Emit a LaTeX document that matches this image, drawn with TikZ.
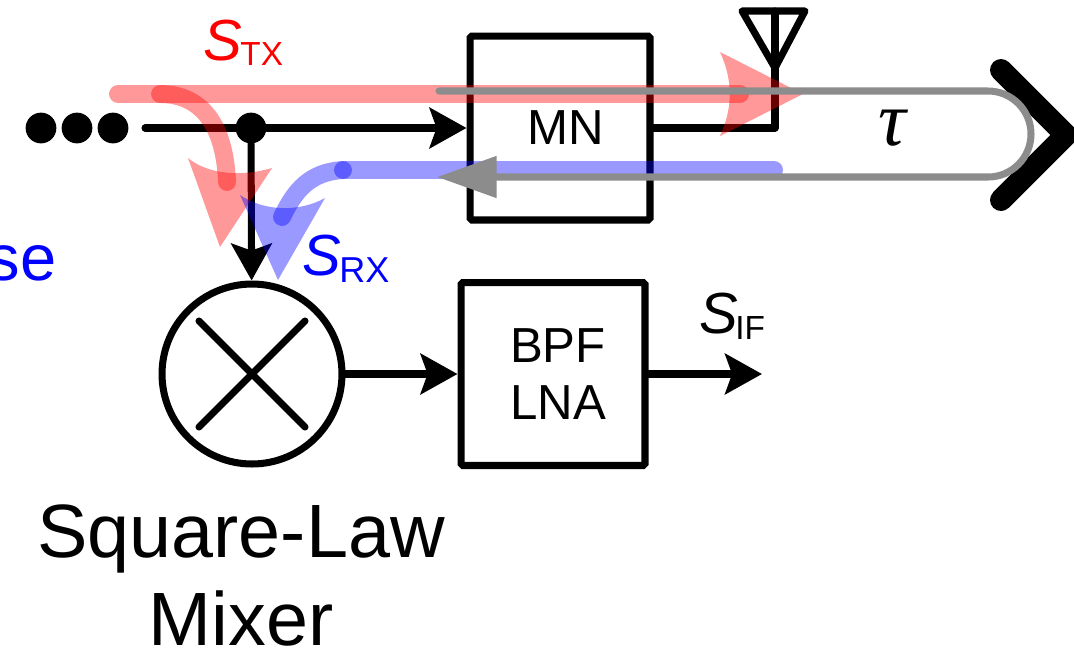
\documentclass[tikz,border=0pt]{standalone}
\usepackage{fontspec}
\setmainfont{Liberation Sans}
\newfontfamily\greekfont{Liberation Serif}
\usetikzlibrary{arrows.meta}
\tikzset{
    wire/.style = {line width=4pt,line cap=round,line join=round},
    wirearrow/.style = {wire,-{Stealth[length=21pt,width=23pt,inset=4pt]}},
    blockbox/.style = {draw,line width=4pt,rounded corners=1pt,align=center,font=\fontsize{28}{32.3}\selectfont},
    dotnode/.style = {circle,fill=black,inner sep=0pt,minimum size=17.5pt},
    looppath/.style = {line width=4pt,line cap=round,draw=black!45},
    txband/.style = {line width=10.2pt,line cap=round,draw=red,opacity=.4},
    rxband/.style = {line width=10.2pt,line cap=round,draw=blue,opacity=.4},
    bigsym/.style = {anchor=base,inner sep=0pt,font=\fontsize{33}{36}\selectfont\itshape},
    smallsub/.style = {anchor=base west,inner sep=0pt,font=\fontsize{19}{22}\selectfont},
    caption/.style = {anchor=base,inner sep=0pt,font=\fontsize{43}{50}\selectfont}
}
\begin{document}
\begin{tikzpicture}[x=0.02cm,y=-0.02cm]
    \useasboundingbox (0,0) rectangle (1074,650);

    % coordinates
    \coordinate (wirestart) at (145,128);
    \coordinate (antfoot) at (775,128);
    \coordinate (anttop) at (775,11);
    \coordinate (antapex) at (775,68);
    \coordinate (ifend) at (762,374);

    % blocks
    \node[dotnode] (dotA) at (41,128) {};
    \node[dotnode] (dotB) at (77,128) {};
    \node[dotnode] (dotC) at (113,128) {};
    \node[dotnode] (junction) at (251,128) {};
    \node[blockbox,minimum width=3.6cm,minimum height=3.68cm] (mn) at (560,128) {\hspace*{6.8pt}MN};
    \node[blockbox,minimum width=3.68cm,minimum height=3.66cm,inner sep=0pt] (bpf) at (553,374) {\hspace*{5.7pt}BPF\\\hspace*{5.7pt}LNA};
    \node[draw,circle,line width=4pt,minimum size=3.6cm] (mixer) at (252,374) {};

    % wiring
    \draw[wire] (wirestart) -- (junction);
    \draw[wirearrow] (junction) -- (mn);
    \draw[wirearrow] (junction) -- (mixer);
    \draw[wirearrow] (mixer) -- (bpf);
    \draw[wirearrow] (bpf) -- (ifend);
    \draw[wire] (mn) -- (antfoot) -- (anttop);
    \draw[wire] (antapex) -- (742,11) -- (805,11) -- cycle;
    \draw[wire] (mixer.center) ++(-53,-53) -- ++(106,106);
    \draw[wire] (mixer.center) ++(53,-53) -- ++(-106,106);

    % target
    \draw[line width=12.5pt,line cap=round,miter limit=10] (1001,70) -- (1066,135) -- (1001,200);

    % transmit path
    \draw[txband] (118,94) -- (740,94);
    \fill[red,opacity=.4] (720,52) .. controls (733,80) and (733,108) .. (720,136) -- (803,94) -- cycle;
    \draw[txband] (160,94) .. controls (205,94) and (225,130) .. (227,182);
    \fill[red,opacity=.4] (188,158) .. controls (210,176) and (245,176) .. (272,168) -- (220,247) -- cycle;

    % receive path
    \draw[rxband] (774,170) -- (343,170);
    \draw[rxband] (343,170) .. controls (310,172) and (295,190) .. (282,217);
    \fill[blue,opacity=.4] (240,195) .. controls (265,212) and (300,212) .. (325,198) -- (278,280) -- cycle;

    % delay loop
    \draw[looppath,-{Stealth[length=34pt,width=23pt,inset=0pt]}] (439,91) -- (988,91)
        arc[start angle=-90,end angle=90,radius=43] -- (437,177);

    % labels
    \node[bigsym,text=red] (stx) at (223,60) {S};
    \node[smallsub,text=red] (stxsub) at (240,65) {TX};
    \node[bigsym,text=blue] (srx) at (322,275) {S};
    \node[smallsub,text=blue,font=\fontsize{20.5}{22}\selectfont] (srxsub) at (339,282) {RX};
    \node[anchor=base east,inner sep=0pt,text=blue,font=\fontsize{37}{40}\selectfont] (selfnoise) at (57,280) {se};
    \node[bigsym] (sif) at (719,333) {S};
    \node[smallsub] (sifsub) at (735,339) {IF};
    \node[anchor=base,inner sep=0pt,font=\fontsize{44}{48}\selectfont\greekfont\itshape] (tau) at (892,145) {τ};
    \node[caption] (mixerlabel) at (241,557) {Square-Law};
    \node[caption] (mixerlabelb) at (241,645) {Mixer};
\end{tikzpicture}
\end{document}
